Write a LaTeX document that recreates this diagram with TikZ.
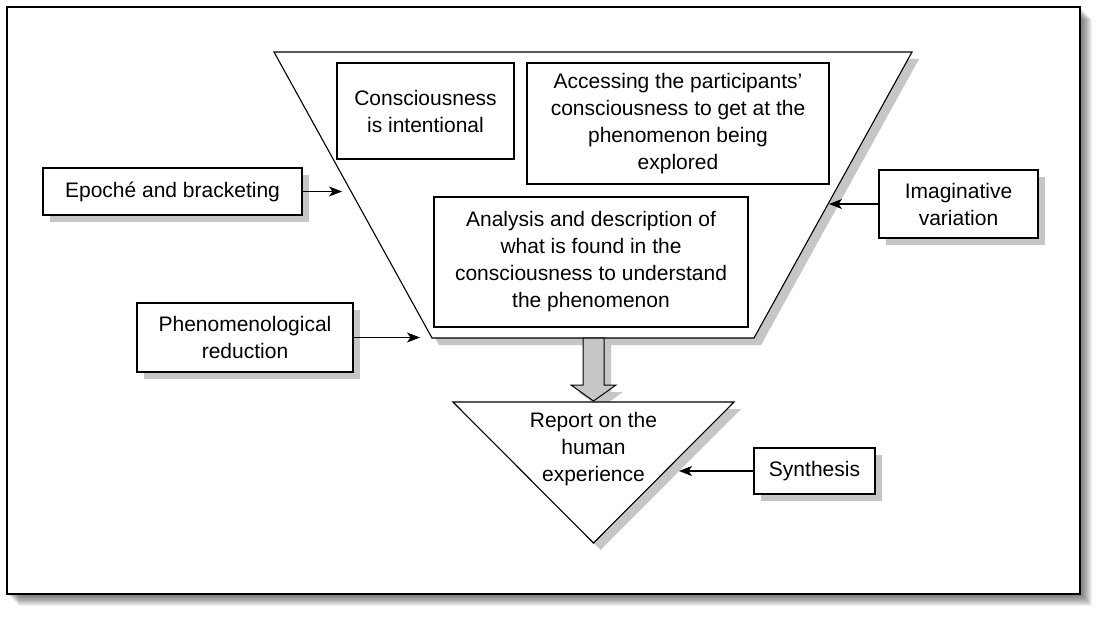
\documentclass[tikz,border=0pt]{standalone}
\usepackage{fontspec}
\setmainfont{Liberation Sans}
\usetikzlibrary{arrows.meta,shadows}
\definecolor{shade}{HTML}{C6C6C6}
\begin{document}
\begin{tikzpicture}[x=1pt,y=-1pt,
  lbl/.style={font=\fontsize{21}{27}\selectfont, align=center},
  box/.style={lbl, draw, line width=1.1pt, fill=white, inner sep=0pt},
  sh/.style={drop shadow={shadow xshift=7pt, shadow yshift=-7pt, fill=shade, opacity=1}},
  conn/.style={line width=1.1pt, -{Stealth[length=13pt,width=10pt,inset=3.5pt]}},
  outline/.style={line width=1.1pt, fill=white}]
\useasboundingbox (0,0) rectangle (1103,618);
% outer frame with soft shadow
\foreach \d in {1,...,12} { \fill[black, opacity=0.06] (7+\d,7+\d) rectangle (1080+\d,594+\d); }
\draw[line width=1.3pt, fill=white] (7,7) rectangle (1080,594);

% trapezoid
\coordinate (tl) at (274,52);
\coordinate (tr) at (912,52);
\coordinate (br) at (754,338);
\coordinate (bl) at (432,338);
\draw[outline, sh] (tl) -- (tr) -- (br) -- (bl) -- cycle;

% inner boxes
\node[box, minimum width=177, minimum height=96] (consc) at (425.5,111) {Consciousness\\is intentional};
\node[box, minimum width=302, minimum height=121] (access) at (678,123.5) {Accessing the participants'\\consciousness to get at the\\phenomenon being\\explored};
\node[box, minimum width=314, minimum height=130] (analysis) at (591,262) {Analysis and description of\\what is found in the\\consciousness to understand\\the phenomenon};

% block arrow
\draw[line width=1pt, fill=shade, sh] (583,338) -- (583,385) -- (571,385) -- (593.5,401) -- (616,385) -- (604,385) -- (604,338) -- cycle;

% triangle
\coordinate (ttl) at (453,402);
\coordinate (ttr) at (734,402);
\coordinate (tbot) at (593.5,543);
\draw[outline, sh] (ttl) -- (ttr) -- (tbot) -- cycle;
\node[lbl] (report) at (593.5,449) {Report on the\\human\\experience};

% outer boxes
\node[box, sh, minimum width=259, minimum height=47] (epoche) at (172.5,191.5) {Epoché and bracketing};
\node[box, sh, minimum width=216, minimum height=69] (phen) at (245,337.5) {Phenomenological\\reduction};
\node[box, sh, minimum width=159, minimum height=68] (imag) at (958.5,204) {Imaginative\\variation};
\node[box, sh, minimum width=121, minimum height=46] (synth) at (814.5,471) {Synthesis};

% connectors
\coordinate (epocheEnd) at (342,191.5);
\coordinate (phenEnd) at (420,337.5);
\coordinate (imagEnd) at (829,204);
\coordinate (synthEnd) at (679,471);
\draw[conn] (epoche.east) -- (epocheEnd);
\draw[conn] (phen.east) -- (phenEnd);
\draw[conn] (imag.west) -- (imagEnd);
\draw[conn] (synth.west) -- (synthEnd);
\end{tikzpicture}
\end{document}
